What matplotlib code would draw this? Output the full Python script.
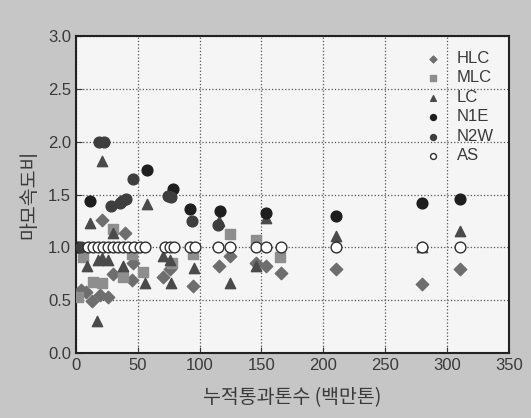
import matplotlib.pyplot as plt

plt.rcParams['font.family'] = ['Liberation Sans', 'Noto Sans CJK KR', 'DejaVu Sans']

# 데이터
hlc_x = [4, 8, 12.7, 19.4, 26, 20.8, 39.6, 30, 45, 46, 70.6, 76, 94.8, 115.9, 125, 145.5, 154, 165.5, 210, 280, 311]
hlc_y = [0.60, 0.58, 0.49, 0.55, 0.53, 1.26, 1.14, 0.75, 0.69, 0.85, 0.72, 0.80, 0.64, 0.82, 0.92, 0.85, 0.82, 0.76, 0.80, 0.65, 0.80]

mlc_x = [2, 5.9, 14, 20.8, 30, 38, 45, 54.4, 78, 94.8, 124.5, 145.5, 165]
mlc_y = [0.53, 0.91, 0.67, 0.66, 1.17, 0.72, 0.94, 0.77, 0.85, 0.94, 1.13, 1.07, 0.91]

lc_x = [8.6, 11.3, 17.2, 18, 20.8, 21, 26, 30.2, 38, 55.8, 57.6, 70.6, 76, 77, 95.4, 116, 125, 145.5, 153.6, 210, 280, 311]
lc_y = [0.82, 1.23, 0.30, 0.88, 1.82, 0.90, 0.88, 1.14, 0.82, 0.66, 1.41, 0.92, 0.88, 0.66, 0.81, 1.25, 0.66, 0.82, 1.28, 1.11, 1.00, 1.16]

n1e_x = [2, 11.3, 57.6, 78.2, 92.2, 116.4, 153.6, 210, 280, 311]
n1e_y = [1.0, 1.44, 1.73, 1.55, 1.36, 1.34, 1.33, 1.30, 1.42, 1.46]

n2w_x = [4, 18.8, 22.9, 28, 35.6, 37.4, 40.2, 46.3, 74.6, 76.8, 93.5, 115]
n2w_y = [1.0, 2.0, 2.0, 1.39, 1.42, 1.44, 1.46, 1.65, 1.49, 1.48, 1.25, 1.21]

as_x = [10, 14, 18, 22, 26, 30, 34, 38, 42, 47, 52, 56, 72, 76, 79, 92, 96, 115, 125, 146, 153.6, 165.5, 210, 280, 311]
as_y = [1.0] * len(as_x)

fig = plt.figure(figsize=(5.31, 4.18), dpi=100, facecolor='#c6c6c6')
ax = fig.add_axes([0.143, 0.155, 0.815, 0.759])
ax.set_facecolor('#f5f5f5')

ax.scatter(hlc_x, hlc_y, marker='D', s=40, color='#6e6e6e', label='HLC', zorder=3)
ax.scatter(mlc_x, mlc_y, marker='s', s=45, color='#8e8e8e', label='MLC', zorder=3)
ax.scatter(lc_x, lc_y, marker='^', s=55, color='#4a4a4a', label='LC', zorder=3)
ax.scatter(n1e_x, n1e_y, marker='o', s=60, color='#1e1e1e', label='N1E', zorder=3)
ax.scatter(n2w_x, n2w_y, marker='o', s=60, color='#3e3e3e', label='N2W', zorder=3)
ax.scatter(as_x, as_y, marker='o', s=60, facecolor='white', edgecolor='#303030',
           linewidth=1.0, label='AS', zorder=4)

ax.set_xlim(0, 350)
ax.set_ylim(0, 3.0)
ax.set_xticks(range(0, 351, 50))
ax.set_yticks([0, 0.5, 1.0, 1.5, 2.0, 2.5, 3.0])
ax.set_yticklabels(['0.0', '0.5', '1.0', '1.5', '2.0', '2.5', '3.0'])
ax.tick_params(direction='in', labelsize=12, colors='#3a3a3a', length=4)
ax.grid(True, linestyle=':', color='#555555', linewidth=0.9)
ax.set_axisbelow(True)
for s in ax.spines.values():
    s.set_linewidth(1.5)
    s.set_color('#222222')

ax.set_xlabel('누적통과톤수 (백만톤)', fontsize=14, color='#3a3a3a', labelpad=10,
              family=['Noto Sans CJK KR', 'DejaVu Sans'])
ax.set_ylabel('마모속도비', fontsize=14, color='#3a3a3a', labelpad=6,
              family=['Noto Sans CJK KR', 'DejaVu Sans'])

leg = ax.legend(loc='upper right', frameon=False, fontsize=12, markerscale=0.55,
                handletextpad=0.4, labelspacing=0.27, borderaxespad=0.5)
for t in leg.get_texts():
    t.set_color('#3a3a3a')

fig.savefig('out.png', dpi=100, facecolor=fig.get_facecolor())
